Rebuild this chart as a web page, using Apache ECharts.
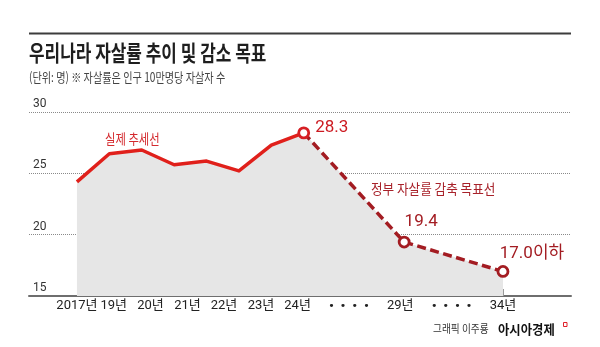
<!DOCTYPE html>
<html><head><meta charset="utf-8">
<script src="https://cdn.jsdelivr.net/npm/echarts@6/dist/echarts.min.js"></script>
<style>html,body{margin:0;padding:0;background:#fff}#c{width:600px;height:347px}</style>
</head><body><div id="c"></div>
<script>
// ---- data ----
const actualYears = ['2017','2018','2019','2020','2021','2022','2023','2024'];
const actualValues = [24.3, 26.6, 26.9, 25.7, 26.0, 25.2, 27.3, 28.3];
const targetYears = ['2024','2029','2034'];
const targetValues = [28.3, 19.4, 17.0];
const targetLabels = ['28.3', '19.4', '17.0이하'];
const tickLabels = ['2017년','19년','20년','21년','22년','23년','24년','29년','34년'];
const yTicks = [15, 20, 25, 30];
const titleText = '우리나라 자살률 추이 및 감소 목표';
const subtitleText = '(단위: 명) ※ 자살률은 인구 10만명당 자살자 수';
const actualNote = '실제 추세선';
const targetNote = '정부 자살률 감축 목표선';
const creditText = '그래픽 이주룡';
const brandText = '아시아경제';

// ---- layout (broken x axis: slot positions) ----
const X_MIN = -1.48, X_MAX = 15.25;
const actualSlots = actualYears.map((y, i) => i);
const targetSlots = [7, 10.1, 13.15];
const tickSlots = [0, 1.136, 2.27, 3.41, 4.54, 5.68, 6.81, 9.98, 13.15];
const dotSlots = [];
[[6, 7], [7, 8]].forEach(([a, b]) => {
  const mid = (tickSlots[a] + tickSlots[b]) / 2;
  [-0.54, -0.18, 0.18, 0.54].forEach(d => dotSlots.push(+(mid + d).toFixed(3)));
});
const labelSlots = tickSlots.concat(dotSlots).sort((a, b) => a - b);
function labelFor(v) {
  for (let i = 0; i < tickSlots.length; i++) if (Math.abs(tickSlots[i] - v) < 1e-3) return tickLabels[i];
  return '{dot|•}';
}

const RED = '#e0201b', DARK = '#a31c22';
const FONT = 'Roboto, "Noto Sans CJK KR", sans-serif';

const chart = echarts.init(document.getElementById('c'), null, {renderer: 'canvas'});
chart.setOption({
  animation: false,
  backgroundColor: '#fff',
  grid: {left: 29, right: 29, top: 112, bottom: 51, containLabel: false},
  xAxis: {
    type: 'value', min: X_MIN, max: X_MAX,
    axisLine: {show: true, lineStyle: {color: '#6e6e6e', width: 2}},
    axisTick: {show: true, inside: true, length: 7, customValues: tickSlots, lineStyle: {color: '#9a9a9a', width: 1}},
    axisLabel: {
      customValues: labelSlots, formatter: labelFor, margin: 10, verticalAlign: 'middle',
      fontSize: 13, color: '#222', fontFamily: FONT,
      rich: {dot: {fontSize: 11, color: '#222', fontFamily: 'DejaVu Sans, sans-serif'}}
    },
    splitLine: {show: false}
  },
  yAxis: {
    type: 'value', min: yTicks[0], max: yTicks[yTicks.length - 1], interval: 5,
    axisLine: {show: false}, axisTick: {show: false},
    axisLabel: {inside: true, margin: 4, align: 'left', verticalAlign: 'bottom', padding: [0, 0, 2, 0],
      fontSize: 12, color: '#333', fontFamily: FONT},
    splitLine: {show: true, lineStyle: {color: '#8a8a8a', width: 1, type: [1, 1]}}
  },
  series: [
    {
      type: 'line', z: 1, silent: true, symbol: 'none',
      data: actualSlots.map((x, i) => [x, actualValues[i]]).concat(targetSlots.slice(1).map((x, i) => [x, targetValues[i + 1]])),
      lineStyle: {width: 0}, areaStyle: {color: '#e6e6e6', opacity: 1, origin: 'start'}
    },
    {
      type: 'line', z: 3, symbol: 'none',
      data: actualSlots.map((x, i) => [x, actualValues[i]]),
      lineStyle: {color: RED, width: 3.5, join: 'round'}
    },
    {
      type: 'line', z: 4, symbol: 'circle', symbolSize: 10,
      data: targetSlots.map((x, i) => ({
        value: [x, targetValues[i]],
        itemStyle: {color: '#fff', borderColor: i === 0 ? '#d61f24' : DARK, borderWidth: 2.8},
        label: i === 0
          ? {show: true, position: 'right', distance: 5, offset: [0, -5], color: '#cc1a21'}
          : (i === 1 ? {show: true, position: 'top', distance: 5, offset: [17, 0], color: DARK}
                     : {show: true, position: 'top', distance: 4, offset: [29, 1], color: DARK})
      })),
      label: {formatter: p => targetLabels[p.dataIndex], fontSize: 17, fontFamily: FONT},
      lineStyle: {color: DARK, width: 3.5, type: [9, 4.5]}
    }
  ],
  graphic: [
    {type: 'line', shape: {x1: 29, y1: 33.5, x2: 571, y2: 33.5}, style: {stroke: '#3c3c3c', lineWidth: 2}},
    {type: 'text', x: 29, y: 53, scaleX: 0.77, originX: 0, originY: 0,
      style: {text: titleText, font: 'bold 22px "Noto Sans CJK KR"', fill: '#1e1e1e', textVerticalAlign: 'middle'}},
    {type: 'text', x: 29, y: 77, scaleX: 0.78, originX: 0, originY: 0,
      style: {text: subtitleText, font: '13px "Noto Sans CJK KR"', fill: '#444', textVerticalAlign: 'middle'}},
    {type: 'text', x: 105, y: 139, scaleX: 0.81, originX: 0, originY: 0,
      style: {text: actualNote, font: '14px "Noto Sans CJK KR"', fill: '#d42a2e', textVerticalAlign: 'middle'}},
    {type: 'text', x: 371, y: 189, scaleX: 0.9, originX: 0, originY: 0,
      style: {text: targetNote, font: '14px "Noto Sans CJK KR"', fill: '#a8222a', textVerticalAlign: 'middle'}},
    {type: 'text', x: 433, y: 329, scaleX: 0.88, originX: 0, originY: 0,
      style: {text: creditText, font: '11px "Noto Sans CJK KR"', fill: '#333', textVerticalAlign: 'middle'}},
    {type: 'text', x: 498, y: 329, scaleX: 0.95, originX: 0, originY: 0,
      style: {text: brandText, font: 'bold 13px "Noto Sans CJK KR"', fill: '#111', textVerticalAlign: 'middle'}},
    {type: 'rect', shape: {x: 563.5, y: 322.5, width: 3.5, height: 4}, style: {fill: 'none', stroke: '#e0202a', lineWidth: 1}}
  ]
});
</script></body></html>
